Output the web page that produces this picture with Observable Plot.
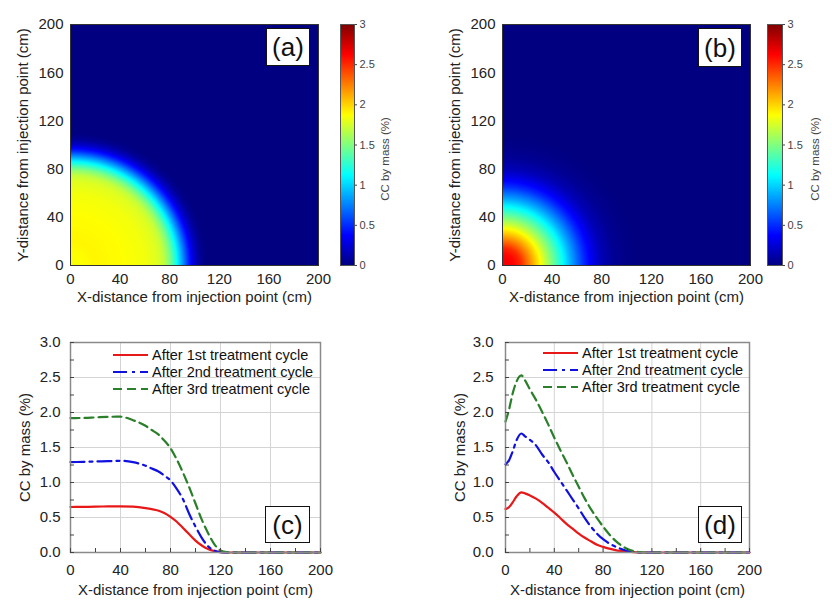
<!DOCTYPE html>
<html><head><meta charset="utf-8">
<script src="https://cdn.jsdelivr.net/npm/d3@7"></script>
<script src="https://cdn.jsdelivr.net/npm/@observablehq/plot@0.6"></script>
<style>
body{margin:0;background:#fff;width:832px;height:616px;position:relative;overflow:hidden;font-family:"Liberation Sans",Arial,sans-serif;color:#222}
.cell{position:absolute}
.cell svg{overflow:visible}
.tag{position:absolute;background:#fff;border:1px solid #111;box-sizing:border-box;display:flex;align-items:center;justify-content:center;font-size:26px;color:#111;line-height:1}
.legend{position:absolute;font-size:14.5px;color:#111}
.legend .row{display:flex;align-items:center;height:17px;white-space:nowrap}
.legend svg{margin-right:4px}
</style></head><body>
<script>
// ---------- data ----------
const axisTicks = [0, 40, 80, 120, 160, 200];
const colorTicks = [0, 0.5, 1, 1.5, 2, 2.5, 3];
const ccTicks = [0, 0.5, 1, 1.5, 2, 2.5, 3];
const minorX = [0, 20, 40, 60, 80, 100, 120, 140, 160, 180, 200];
const minorY = [0, 0.25, 0.5, 0.75, 1, 1.25, 1.5, 1.75, 2, 2.25, 2.5, 2.75, 3];
const gridXTicks = [40, 80, 120, 160];
const gridYTicks = [0.5, 1, 1.5, 2, 2.5];

const seriesNames = ["After 1st treatment cycle", "After 2nd treatment cycle", "After 3rd treatment cycle"];
const seriesColors = ["#e81818", "#1010e0", "#2a7f2a"];
const seriesDash = [null, "14,5,3,5", "9,5"];

// Heatmap radial profiles (distance from injection point, cm -> CC %)
const radiusA = [0, 20, 40, 60, 70, 75, 80, 85, 90, 95, 100, 105, 110, 290];
const ccA = [1.85, 1.9, 1.88, 1.84, 1.78, 1.7, 1.5, 1.2, 0.85, 0.5, 0.22, 0.06, 0, 0];
const radiusB = [0, 5, 10, 15, 20, 25, 30, 35, 40, 45, 50, 55, 60, 65, 70, 75, 80, 90, 100, 110, 290];
const ccB = [2.65, 2.65, 2.6, 2.5, 2.3, 2.1, 1.9, 1.68, 1.48, 1.28, 1.08, 0.88, 0.7, 0.52, 0.38, 0.26, 0.16, 0.06, 0.02, 0, 0];

// Panel (c)
const xC = [0, 10, 20, 30, 40, 50, 60, 65, 70, 75, 80, 85, 90, 95, 100, 105, 110, 115, 120, 125, 130, 140, 160, 180, 200];
const cCycle1 = [0.65, 0.652, 0.655, 0.658, 0.66, 0.655, 0.635, 0.62, 0.6, 0.565, 0.51, 0.44, 0.35, 0.26, 0.17, 0.1, 0.05, 0.02, 0.005, 0, 0, 0, 0, 0, 0];
const cCycle2 = [1.29, 1.295, 1.3, 1.305, 1.31, 1.29, 1.24, 1.2, 1.16, 1.1, 1.03, 0.91, 0.76, 0.55, 0.37, 0.21, 0.09, 0.03, 0.005, 0, 0, 0, 0, 0, 0];
const cCycle3 = [1.92, 1.922, 1.93, 1.938, 1.94, 1.89, 1.81, 1.75, 1.69, 1.6, 1.49, 1.33, 1.14, 0.93, 0.7, 0.47, 0.28, 0.12, 0.03, 0.005, 0, 0, 0, 0, 0];

// Panel (d)
const xD = [0, 3, 6, 9, 13, 16, 20, 25, 30, 35, 40, 45, 50, 55, 60, 65, 70, 75, 80, 85, 90, 95, 100, 105, 110, 115, 120, 140, 160, 180, 200];
const dCycle1 = [0.62, 0.65, 0.72, 0.8, 0.86, 0.845, 0.815, 0.77, 0.71, 0.64, 0.57, 0.49, 0.41, 0.34, 0.27, 0.21, 0.16, 0.11, 0.08, 0.055, 0.035, 0.022, 0.012, 0.005, 0.001, 0, 0, 0, 0, 0, 0];
const dCycle2 = [1.26, 1.32, 1.45, 1.6, 1.70, 1.66, 1.61, 1.53, 1.4, 1.29, 1.15, 1.02, 0.89, 0.76, 0.63, 0.49, 0.37, 0.27, 0.19, 0.13, 0.085, 0.05, 0.022, 0.007, 0, 0, 0, 0, 0, 0, 0];
const dCycle3 = [1.87, 2.05, 2.28, 2.44, 2.53, 2.46, 2.33, 2.18, 2.01, 1.83, 1.64, 1.46, 1.29, 1.11, 0.94, 0.77, 0.62, 0.49, 0.37, 0.26, 0.17, 0.1, 0.05, 0.02, 0.005, 0, 0, 0, 0, 0, 0];

const xLabel = "X-distance from injection point (cm)";
const yLabel = "Y-distance from injection point (cm)";
const ccLabel = "CC by mass (%)";

// ---------- helpers ----------
const FONT = "'Liberation Sans', Arial, sans-serif";
const jet = {type: "linear", domain: [0, 0.375, 1.125, 1.875, 2.625, 3],
  range: ["#000080", "#0000ff", "#00ffff", "#ffff00", "#ff0000", "#800000"], interpolate: "rgb"};

function place(node, left, top) {
  const d = document.createElement("div");
  d.className = "cell"; d.style.left = left + "px"; d.style.top = top + "px";
  d.appendChild(node); document.body.appendChild(d);
}
function tag(txt, left, top, w, h) {
  const d = document.createElement("div");
  d.className = "tag"; d.textContent = txt;
  Object.assign(d.style, {left: left + "px", top: top + "px", width: w + "px", height: h + "px"});
  document.body.appendChild(d);
}
function legend(left, top) {
  const L = document.createElement("div");
  L.className = "legend"; L.style.left = left + "px"; L.style.top = top + "px";
  seriesNames.forEach((n, i) => {
    const r = document.createElement("div"); r.className = "row";
    r.innerHTML = `<svg width="35" height="4"><line x1="0" x2="35" y1="2" y2="2" stroke="${seriesColors[i]}" stroke-width="2.2" ${seriesDash[i] ? `stroke-dasharray="${seriesDash[i]}"` : ""}/></svg><span>${n}</span>`;
    L.appendChild(r);
  });
  document.body.appendChild(L);
}

function heatmap(radius, cc, mL, mR) {
  const f = d3.scaleLinear().domain(radius).range(cc).clamp(true);
  return Plot.plot({
    width: mL + 248 + mR, height: 300,
    marginLeft: mL, marginRight: mR, marginTop: 24, marginBottom: 35,
    x: {domain: [0, 200]}, y: {domain: [0, 200]},
    color: jet,
    style: {fontFamily: FONT, fontSize: "15px", color: "#222", background: "transparent", overflow: "visible"},
    marks: [
      Plot.raster({x1: 0, x2: 200, y1: 0, y2: 200, fill: (x, y) => f(Math.hypot(x, y)), pixelSize: 1}),
      Plot.frame({stroke: "#333"}),
      Plot.axisX({ticks: axisTicks, tickSize: 0, tickPadding: 8, label: null}),
      Plot.axisY({ticks: axisTicks, tickSize: 0, tickPadding: 7, label: null}),
      Plot.text([xLabel], {text: d => d, frameAnchor: "bottom", dy: 32, lineAnchor: "middle", textAnchor: "middle", fontSize: 15}),
      Plot.text([yLabel], {text: d => d, frameAnchor: "left", dx: -47, rotate: -90, lineAnchor: "middle", textAnchor: "middle", fontSize: 15})
    ]
  });
}

function colorbar(mL, barW, labelDx) {
  return Plot.plot({
    width: 72, height: 300,
    marginLeft: mL, marginRight: 72 - mL - barW, marginTop: 24, marginBottom: 35,
    x: {domain: [0, 1], axis: null}, y: {domain: [0, 3]},
    color: jet,
    style: {fontFamily: FONT, fontSize: "11px", color: "#444", background: "transparent", overflow: "visible"},
    marks: [
      Plot.raster({x1: 0, x2: 1, y1: 0, y2: 3, fill: (x, y) => y, pixelSize: 1}),
      Plot.frame({stroke: "#555"}),
      Plot.axisY({anchor: "right", ticks: colorTicks, tickSize: 2, tickPadding: 3, label: null, tickFormat: d => String(d)}),
      Plot.text([ccLabel], {text: d => d, frameAnchor: "right", dx: labelDx, dy: 14, rotate: -90, lineAnchor: "middle", textAnchor: "middle", fontSize: 11.5, fill: "#444"})
    ]
  });
}

function lineChart(xs, ys, mL, plotW, yPad) {
  const rows = [];
  ys.forEach((arr, s) => arr.forEach((v, i) => rows.push({x: xs[i], y: v, s})));
  const W = mL + plotW + 80;
  return Plot.plot({
    width: W, height: 316,
    marginLeft: mL, marginRight: 80, marginTop: 42, marginBottom: 64,
    x: {domain: [0, 200]}, y: {domain: [0, 3]},
    style: {fontFamily: FONT, fontSize: "15px", color: "#222", background: "transparent", overflow: "visible"},
    marks: [
      Plot.gridX(gridXTicks, {stroke: "#d4d4d4", strokeOpacity: 1}),
      Plot.gridY(gridYTicks, {stroke: "#d4d4d4", strokeOpacity: 1}),
      ...[0, 1, 2].map(s => Plot.line(rows.filter(r => r.s === s), {
        x: "x", y: "y", stroke: seriesColors[s], strokeWidth: 2.2,
        strokeDasharray: seriesDash[s] || undefined, curve: "monotone-x"
      })),
      Plot.frame({stroke: "#8a8a8a", strokeWidth: 1.5}),
      Plot.axisX({ticks: minorX, tickSize: -4, tickFormat: () => "", label: null, stroke: "#444"}),
      Plot.axisY({ticks: minorY, tickSize: -4, tickFormat: () => "", label: null, stroke: "#444"}),
      Plot.axisX({ticks: axisTicks, tickSize: 0, tickPadding: 12, label: null}),
      Plot.axisY({ticks: ccTicks, tickSize: 0, tickPadding: yPad, label: null, tickFormat: d3.format(".1f")}),
      Plot.text([xLabel], {text: d => d, frameAnchor: "bottom", dy: 38, lineAnchor: "middle", textAnchor: "middle", fontSize: 15}),
      Plot.text([ccLabel], {text: d => d, frameAnchor: "left", dx: -45, rotate: -90, lineAnchor: "middle", textAnchor: "middle", fontSize: 15})
    ]
  });
}

// ---------- layout ----------
place(heatmap(radiusA, ccA, 70, 17), 0, 0);
place(colorbar(5, 14, 31), 335, 0);
place(heatmap(radiusB, ccB, 87, 13), 415, 0);
place(colorbar(7, 15, 33), 760, 0);
place(lineChart(xC, [cCycle1, cCycle2, cCycle3], 70, 250, 10), 0, 300);
place(lineChart(xD, [dCycle1, dCycle2, dCycle3], 90, 244, 12), 415, 300);

legend(113, 346);
legend(543, 344);
tag("(a)", 266, 28, 44, 38);
tag("(b)", 698, 28, 44, 39);
tag("(c)", 265, 506, 45, 37);
tag("(d)", 698, 506, 44, 37);
</script>
</body></html>
